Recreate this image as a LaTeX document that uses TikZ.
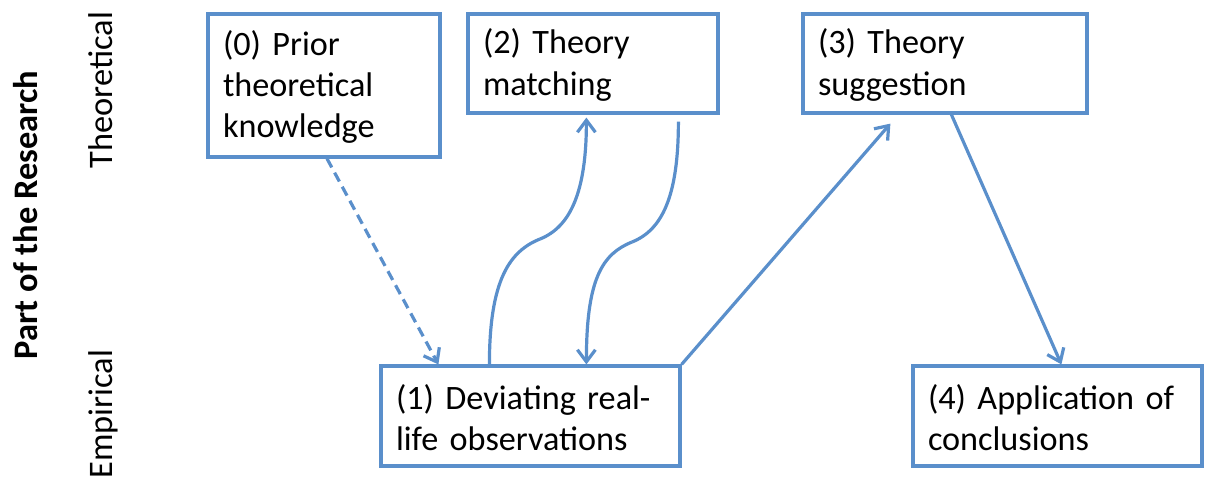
\documentclass[tikz,border=0pt]{standalone}
\usepackage{fontspec}
\setmainfont{Carlito}
\usetikzlibrary{arrows.meta}
\definecolor{lineblue}{RGB}{90,143,203}
\tikzset{
  box/.style={draw=lineblue, line width=1.6pt, rectangle, align=left,
    inner xsep=7.5pt, inner ysep=0pt, font=\fontsize{17.1pt}{20.7pt}\selectfont},
  conn/.style={draw=lineblue, line width=1.6pt,
    -{Straight Barb[length=6pt,width=9pt]}},
  sidelabel/.style={rotate=90, anchor=base, font=\fontsize{17.2pt}{20.5pt}\selectfont}
}
\begin{document}
\begin{tikzpicture}[x=0.5pt,y=-0.5pt]
\useasboundingbox (0,0) rectangle (1208,484);
% side labels
\node[sidelabel, font=\fontsize{17.2pt}{20.5pt}\selectfont\bfseries] (part) at (37,215) {Part of the Research};
\node[sidelabel] (theo) at (112,90) {Theoretical};
\node[sidelabel] (emp) at (112,414) {Empirical};
% boxes
\node[box, text width=101pt, minimum height=71.5pt] (b0) at (324,85.5) {\rule{0pt}{14pt}(0) Prior\\theoretical\\knowledge};
\node[box, text width=110pt, minimum height=49.5pt] (b2) at (593,63.5) {\rule{0pt}{14pt}(2) Theory\\matching};
\node[box, text width=127pt, minimum height=49.5pt] (b3) at (945,63.5) {\rule{0pt}{14pt}(3) Theory\\suggestion};
\node[box, text width=134.5pt, minimum height=50pt] (b1) at (530.5,416) {\rule{0pt}{14pt}(1) Deviating real-\\life observations};
\node[box, text width=129.5pt, minimum height=50pt] (b4) at (1057.5,416) {\rule{0pt}{14pt}(4) Application of\\conclusions};
% helper coordinates
\coordinate (m1) at (540,239);
\coordinate (m2) at (632,242);
% connectors
\draw[conn, dashed, dash pattern=on 5pt off 3pt] ([xshift=1.5pt]b0.south) -- ([xshift=29.5pt]b1.north west);
\draw[conn, -] ([xshift=55pt]b1.north west) .. controls +(0,-85) and +(-30,12) .. (m1);
\draw[conn] (m1) .. controls +(30,-12) and +(0,75) .. ([xshift=60pt,yshift=-1.5pt]b2.south west);
\draw[conn, -] ([xshift=106pt,yshift=-3.5pt]b2.south west) .. controls +(0,75) and +(30,-12) .. (m2);
\draw[conn] (m2) .. controls +(-30,12) and +(0,-85) .. ([xshift=103.5pt]b1.north west);
\draw[conn] (b1.north east) -- ([xshift=44.5pt,yshift=-4.5pt]b3.south west);
\draw[conn] ([xshift=75pt]b3.south west) -- ([xshift=75pt]b4.north west);
\end{tikzpicture}
\end{document}
